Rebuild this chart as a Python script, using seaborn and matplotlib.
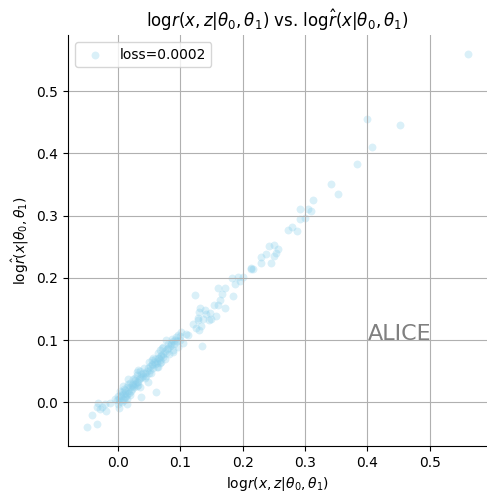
import matplotlib
matplotlib.use("Agg")
import matplotlib.pyplot as plt
import pandas as pd
import seaborn as sns

# log r(x,z|theta0,theta1) -- true values
log_r_true = [
    0.561, 0.399, 0.452, 0.407, 0.383, 0.342, 0.352, 0.313, 0.292, 0.304,
    0.310, 0.300, 0.292, 0.273, 0.279, 0.287, 0.242, 0.250, 0.256, 0.253,
    0.250, 0.237, 0.230, 0.229, 0.246, 0.213, 0.216, 0.213, 0.183, 0.193,
    0.201, 0.196, 0.187, 0.184, 0.161, 0.171, 0.124, 0.167, 0.163, 0.154,
    0.160, 0.172, 0.132, 0.130, 0.140, 0.142, 0.147, 0.158, 0.150, 0.146,
    0.129, 0.129, 0.137, 0.120, 0.134, 0.126, 0.130, 0.135, 0.102, 0.110,
    0.113, 0.094, 0.097, 0.100, 0.105, 0.089, 0.078, 0.086, 0.081, 0.073,
    0.068, 0.097, 0.089, 0.077, 0.069, 0.060, 0.064, 0.068, 0.054, 0.073,
    0.062, 0.070, 0.065, 0.054, 0.057, 0.052, 0.061, 0.049, 0.050, 0.041,
    0.039, 0.033, 0.031, 0.036, 0.030, 0.044, 0.033, 0.028, 0.025, 0.031,
    0.020, 0.017, 0.023, 0.036, 0.037, 0.015, 0.012, 0.010, 0.007, 0.015,
    0.020, 0.012, 0.004, 0.002, 0.008, 0.000, 0.015, 0.002, -0.004, -0.012,
    -0.020, -0.025, -0.031, -0.033, -0.028, -0.019, -0.041, -0.034, -0.049,
    0.005, 0.008, 0.011, 0.013, 0.016, 0.018, 0.021, 0.024, 0.026, 0.028,
    0.030, 0.034, 0.037, 0.040, 0.043, 0.046, 0.048, 0.051, 0.055, 0.058,
    0.060, 0.063, 0.066, 0.070, 0.072, 0.075, 0.079, 0.083, 0.085, 0.090,
    0.092, 0.095, 0.099, 0.003, 0.006, 0.010, 0.014, 0.019, 0.022, 0.027,
    0.032, 0.045, 0.053, 0.062, 0.068, 0.076, 0.082, 0.088, -0.002, 0.001,
    0.004, 0.009, 0.017, 0.025, 0.035, 0.042, 0.050, 0.057, 0.064, 0.071,
    0.080, 0.087,
]

# log r_hat(x|theta0,theta1) -- ALICE estimates
log_r_hat = [
    0.560, 0.455, 0.446, 0.410, 0.383, 0.351, 0.334, 0.325, 0.310, 0.310,
    0.308, 0.297, 0.295, 0.277, 0.282, 0.276, 0.252, 0.253, 0.247, 0.240,
    0.235, 0.238, 0.233, 0.224, 0.224, 0.216, 0.214, 0.215, 0.200, 0.202,
    0.201, 0.195, 0.190, 0.171, 0.183, 0.184, 0.173, 0.174, 0.164, 0.156,
    0.157, 0.152, 0.152, 0.145, 0.148, 0.142, 0.143, 0.139, 0.134, 0.132,
    0.136, 0.132, 0.134, 0.126, 0.123, 0.119, 0.117, 0.091, 0.113, 0.110,
    0.108, 0.105, 0.109, 0.101, 0.096, 0.099, 0.100, 0.092, 0.087, 0.089,
    0.084, 0.089, 0.081, 0.080, 0.076, 0.069, 0.071, 0.068, 0.068, 0.073,
    0.063, 0.065, 0.057, 0.060, 0.055, 0.052, 0.016, 0.033, 0.047, 0.047,
    0.041, 0.052, 0.049, 0.039, 0.044, 0.039, 0.033, 0.036, 0.030, 0.026,
    0.032, 0.037, 0.022, 0.024, 0.009, 0.025, 0.020, 0.021, 0.016, 0.014,
    0.012, 0.009, 0.012, 0.006, 0.005, -0.002, -0.002, -0.009, 0.006, -0.001,
    -0.002, -0.007, -0.001, -0.007, -0.010, -0.013, -0.020, -0.035, -0.040,
    0.010, 0.013, 0.015, 0.011, 0.018, 0.015, 0.019, 0.027, 0.024, 0.030,
    0.033, 0.037, 0.045, 0.043, 0.048, 0.050, 0.055, 0.058, 0.061, 0.065,
    0.062, 0.066, 0.072, 0.075, 0.078, 0.083, 0.086, 0.090, 0.095, 0.094,
    0.100, 0.098, 0.106, 0.003, 0.000, 0.004, 0.006, 0.024, 0.028, 0.040,
    0.028, 0.043, 0.048, 0.057, 0.063, 0.070, 0.078, 0.085, 0.004, 0.010,
    0.018, 0.027, 0.029, 0.038, 0.050, 0.056, 0.065, 0.071, 0.080, 0.088,
    0.094, 0.102,
]

loss_label = "loss=0.0002"
method_name = "ALICE"

df = pd.DataFrame({"true": log_r_true, "est": log_r_hat})

fig = plt.figure(figsize=(4.87, 4.91), dpi=100)
ax = fig.add_axes([0.140, 0.0916, 0.86, 0.837])
sns.scatterplot(x="true", y="est", data=df, ax=ax, color="skyblue",
                alpha=0.3, s=32, linewidth=0, label=loss_label)
ax.grid(True)
sns.despine(ax=ax)
ax.text(0.4, 0.1, method_name, fontsize=16, color="gray")
ax.set_xlabel(r"$\mathrm{log}r(x,z|\theta_0,\theta_1)$")
ax.set_ylabel(r"$\mathrm{log}\hat{r}(x|\theta_0,\theta_1)$")
ax.set_title(r"$\mathrm{log}r(x,z|\theta_0,\theta_1)$ vs. $\mathrm{log}\hat{r}(x|\theta_0,\theta_1)$")
ax.legend(loc="upper left")
fig.savefig("out.png", dpi=100)
